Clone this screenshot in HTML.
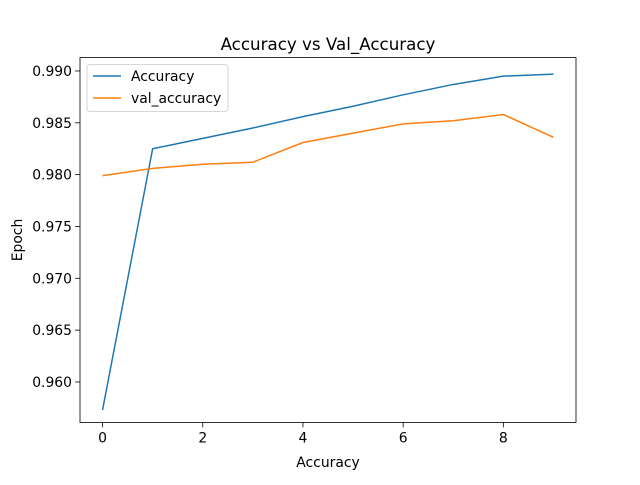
<!DOCTYPE html>
<html><head><meta charset="utf-8"><style>body{margin:0;background:#fff}svg{font-family:"DejaVu Sans","Liberation Sans",sans-serif}</style></head>
<body>
<svg id="c" width="640" height="480" xmlns="http://www.w3.org/2000/svg"></svg>
<script>
const epochs=[0,1,2,3,4,5,6,7,8,9];
const accuracy=[0.9573,0.9825,0.9835,0.9845,0.9856,0.9866,0.9877,0.9887,0.9895,0.9897];
const valAccuracy=[0.9799,0.9806,0.9810,0.9812,0.9831,0.9840,0.9849,0.9852,0.9858,0.9836];
const xTicks=[0,2,4,6,8];
const yTicks=[0.960,0.965,0.970,0.975,0.980,0.985,0.990];
const L=80,R=576,T=57.6,B=422.4;
const xmin=-0.45,xmax=9.45,ymin=0.95610,ymax=0.99129;
const X=v=>L+(v-xmin)/(xmax-xmin)*(R-L);
const Y=v=>B-(v-ymin)/(ymax-ymin)*(B-T);
const s=document.getElementById('c');const NS='http://www.w3.org/2000/svg';
function mk(t,a,txt){const e=document.createElementNS(NS,t);for(const k in a)e.setAttribute(k,a[k]);if(txt!==undefined)e.textContent=txt;s.appendChild(e);return e;}
let e;
e=mk('text',{x:328,y:50,'text-anchor':'middle','font-size':16.7},'Accuracy vs Val_Accuracy');


xTicks.forEach(v=>{
e=mk('line',{x1:X(v),x2:X(v),y1:B,y2:B+4.9,stroke:'#000','stroke-width':0.8});


e=mk('text',{x:X(v),y:B+20,'text-anchor':'middle','font-size':13.9},String(v));


});
yTicks.forEach(v=>{
e=mk('line',{x1:L-4.9,x2:L,y1:Y(v),y2:Y(v),stroke:'#000','stroke-width':0.8});


e=mk('text',{x:L-8,y:Y(v)+5,'text-anchor':'end','font-size':13.9},v.toFixed(3));


});
e=mk('text',{x:328,y:467,'text-anchor':'middle','font-size':13.9},'Accuracy');


e=mk('text',{x:22,y:240,'text-anchor':'middle','font-size':13.9,transform:'rotate(-90 22 240)'},'Epoch');


function line(d,c,n){e=mk('polyline',{points:d.map((v,i)=>X(epochs[i])+','+Y(v)).join(' '),fill:'none',stroke:c,'stroke-width':1.5});

}
line(accuracy,'#1f77b4','accuracy-line');
line(valAccuracy,'#ff7f0e','val-accuracy-line');
e=mk('rect',{x:L,y:T,width:R-L,height:B-T,fill:'none',stroke:'#000','stroke-width':0.8});


e=mk('rect',{x:87,y:64.5,width:141,height:47,rx:3,fill:'#fff','fill-opacity':0.8,stroke:'#ccc','stroke-width':0.8});


[['Accuracy','#1f77b4',76],['val_accuracy','#ff7f0e',98]].forEach(([t,c,y])=>{
e=mk('line',{x1:93,x2:121,y1:y,y2:y,stroke:c,'stroke-width':1.5});


e=mk('text',{x:131,y:y+5,'font-size':13.9},t);


});
</script>
</body></html>
